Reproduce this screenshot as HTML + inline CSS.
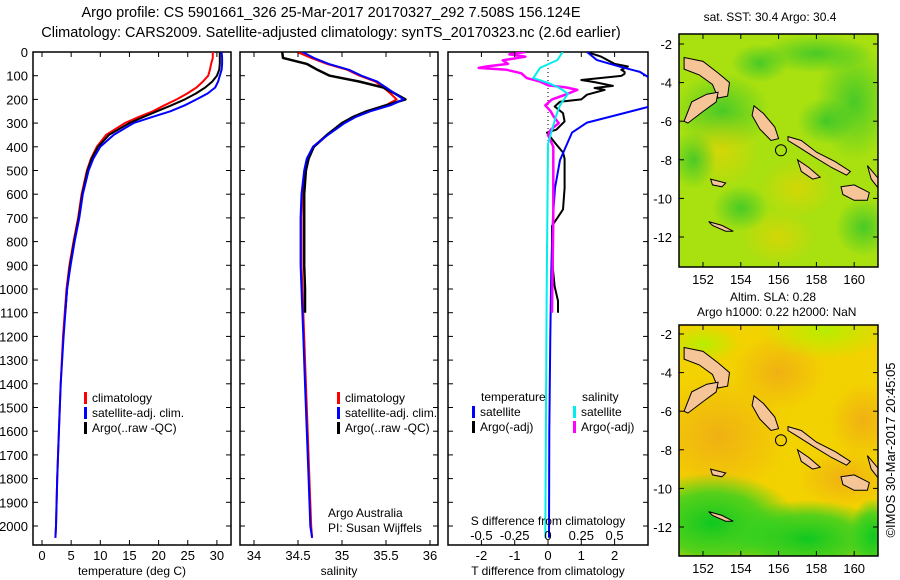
<!DOCTYPE html>
<html><head><meta charset="utf-8"><style>
html,body{margin:0;padding:0;background:#fff;overflow:hidden;width:900px;height:580px}
svg{display:block}
svg text{font-family:"Liberation Sans",sans-serif;fill:#000}
</style></head><body>
<svg id="c" width="900" height="580" viewBox="0 0 900 580" xmlns="http://www.w3.org/2000/svg">
<defs>
<clipPath id="cp1"><rect x="33" y="52" width="198" height="493"/></clipPath>
<clipPath id="cp2"><rect x="240" y="52" width="198" height="493"/></clipPath>
<clipPath id="cp3"><rect x="448" y="52" width="200" height="493"/></clipPath>
<clipPath id="cm1"><rect x="679" y="34" width="199" height="233"/></clipPath>
<clipPath id="cm2"><rect x="679" y="325" width="199" height="231"/></clipPath>
<radialGradient id="g1" cx="0.5" cy="0.5" r="0.5"><stop offset="0" stop-color="#f0a818" stop-opacity="0.8"/><stop offset="1" stop-color="#f0a818" stop-opacity="0"/></radialGradient>
<radialGradient id="g2" cx="0.5" cy="0.5" r="0.5"><stop offset="0" stop-color="#10c820" stop-opacity="1"/><stop offset="0.6" stop-color="#30d020" stop-opacity="0.8"/><stop offset="1" stop-color="#30d020" stop-opacity="0"/></radialGradient>
<radialGradient id="g3" cx="0.5" cy="0.5" r="0.5"><stop offset="0" stop-color="#20c030" stop-opacity="0.7"/><stop offset="1" stop-color="#20c030" stop-opacity="0"/></radialGradient>
<radialGradient id="g4" cx="0.5" cy="0.5" r="0.5"><stop offset="0" stop-color="#f0d000" stop-opacity="0.6"/><stop offset="1" stop-color="#f0d000" stop-opacity="0"/></radialGradient>
<radialGradient id="g5" cx="0.5" cy="0.5" r="0.5"><stop offset="0" stop-color="#b0f000" stop-opacity="0.9"/><stop offset="1" stop-color="#b0f000" stop-opacity="0"/></radialGradient>
</defs>
<text x="331" y="17" font-size="14.5" text-anchor="middle">Argo profile: CS 5901661_326 25-Mar-2017 20170327_292 7.508S 156.124E</text>
<text x="331" y="37" font-size="14.5" text-anchor="middle">Climatology: CARS2009. Satellite-adjusted climatology: synTS_20170323.nc (2.6d earlier)</text>
<g id="main"></g>
</svg>
<script>
// ---- data ----
const depths = [0,25,50,75,100,125,150,175,200,225,250,275,300,350,400,450,500,600,700,800,900,1000,1200,1400,1600,1800,2000,2050];
const tempClim = [29.3,29.3,29.0,28.8,28.5,27.6,26.5,24.9,23.1,21.0,19.0,16.5,14.2,11.0,9.4,8.4,7.7,6.8,6.2,5.4,4.7,4.2,3.6,3.2,2.9,2.6,2.4,2.3];
const tempSat = [30.8,30.9,30.9,30.8,30.5,30.2,29.7,28.4,26.5,24.5,22.0,18.8,15.7,12.3,10.0,8.8,8.0,7.0,6.4,5.6,4.9,4.3,3.7,3.2,2.9,2.6,2.4,2.3];
const argoDepths = [0,25,50,75,100,125,150,175,200,225,250,275,300,350,400,450,500,600,700,800,900,1000,1100];
const tempArgo = [30.5,30.5,30.5,30.4,30.0,29.2,28.0,26.4,24.5,22.2,19.7,17.3,15.0,11.5,9.6,8.5,7.8,6.9,6.3,5.5,4.8,4.3,4.0];
const salClim = [34.49,34.65,34.83,35.06,35.2,35.38,35.47,35.55,35.62,35.5,35.28,35.13,35.01,34.83,34.67,34.61,34.58,34.55,34.54,34.54,34.54,34.55,34.57,34.59,34.61,34.63,34.65,34.66];
const salSat = [34.55,34.68,34.85,35.08,35.22,35.40,35.50,35.60,35.70,35.55,35.32,35.15,35.03,34.84,34.67,34.60,34.57,34.54,34.53,34.53,34.53,34.54,34.56,34.58,34.60,34.62,34.64,34.66];
const salArgo = [34.32,34.33,34.6,34.72,34.86,35.2,35.47,35.6,35.72,35.5,35.28,35.12,35.0,34.83,34.68,34.62,34.59,34.57,34.57,34.57,34.57,34.58,34.58];
const dTsatDepth = [0,34,62,84,105,160,232,270,298,340,388,456,574,692,810,920,1200,1600,2050];
const dTsat = [1.17,1.47,2.16,2.76,3.0,4.0,3.0,1.95,1.17,0.72,0.57,0.36,0.21,0.15,0.12,0.1,0.07,0.04,0.03];
const dTargoDepth = [0,20,50,61,75,84,92,101,118,127,143,152,160,180,200,210,230,258,293,328,340,382,424,450,574,664,734,810,920,990,1050,1100];
const dTargo = [1.17,1.6,2.0,2.4,2.2,2.3,2.3,2.2,1.0,1.4,1.95,1.4,1.7,1.17,1.0,0.36,0.2,0.45,0.5,0.25,-0.03,0.2,0.45,0.5,0.5,0.45,0.12,0.12,0.15,0.2,0.3,0.3];
const dSargoDepth = [0,10,20,35,50,60,67,75,90,110,125,140,150,160,180,200,225,250,270,300,328,350,400,700,1100];
const dSargo = [-0.17,-0.29,-0.17,-0.34,-0.3,-0.45,-0.52,-0.31,-0.2,-0.16,-0.06,0,0.14,0.22,0.13,0.03,-0.02,0.02,0.04,0.08,0.02,0.0,0.04,0.04,0.03];
const dSsatDepth = [0,34,67,110,130,150,176,200,225,270,328,388,1000,2050];
const dSsat = [0.11,0.07,-0.06,-0.11,0.0,0.08,0.15,0.12,0.09,0.06,0.03,0.0,-0.01,-0.02];
const depthTicks = [0,100,200,300,400,500,600,700,800,900,1000,1100,1200,1300,1400,1500,1600,1700,1800,1900,2000];
const tempTicks = [0,5,10,15,20,25,30];
const salTicks = [34,34.5,35,35.5,36];
const salTickLabels = ["34","34.5","35","35.5","36"];
const dTTicks = [-2,-1,0,1,2];
const dSTicks = [-0.5,-0.25,0,0.25,0.5];
const dSTickLabels = ["-0.5","-0.25","0","0.25","0.5"];
const lonTicks = [152,154,156,158,160];
const latTicks = [-2,-4,-6,-8,-10,-12];

// ---- scales ----
const yD = d => 52 + d*0.237;
const xT = t => 42 + t*5.83;
const xS = s => 298 + (s-34.5)*88;
const xdT = v => 548 + v*33.3;
const xdS = v => 548 + v*133.2;
const NS = 'http://www.w3.org/2000/svg';
const main = document.getElementById('main');
function mk(tag, attrs, parent){const e=document.createElementNS(NS,tag);for(const k in attrs)e.setAttribute(k,attrs[k]);(parent||main).appendChild(e);return e;}
function txt(x,y,s,size,anchor,parent){const e=mk('text',{x:x,y:y,'font-size':size,'text-anchor':anchor||'middle'},parent);e.textContent=s;return e;}

function panel(name,x0,w,clip){
  const g=mk('g',{});
  
  
  const box=mk('rect',{x:x0,y:52,width:w,height:493,fill:'none',stroke:'#000','stroke-width':1.5},g);
  
  
  depthTicks.forEach(d=>{mk('line',{x1:x0,x2:x0+5,y1:yD(d),y2:yD(d),stroke:'#000'},g);mk('line',{x1:x0+w-5,x2:x0+w,y1:yD(d),y2:yD(d),stroke:'#000'},g);});
  const lines=mk('g',{'clip-path':'url(#'+clip+')'},g);
  return {g,lines};
}
function xticks(g,vals,labels,sc,ly){
  vals.forEach((v,i)=>{const x=sc(v);mk('line',{x1:x,x2:x,y1:52,y2:57,stroke:'#000'},g);mk('line',{x1:x,x2:x,y1:540,y2:545,stroke:'#000'},g);
    const t=txt(x,ly,labels?labels[i]:String(v),13,'middle',g);
    
    });
}
function series(parent,ds,vs,sx,color,name,width,dash){
  const pts=ds.map((d,i)=>sx(vs[i]).toFixed(1)+','+yD(d).toFixed(1)).join(' ');
  const p=mk('polyline',{points:pts,fill:'none',stroke:color,'stroke-width':width||2,'stroke-linejoin':'round'},parent);
  if(dash)p.setAttribute('stroke-dasharray',dash);
  
  
}
function legend(parent,x,y,items){
  items.forEach((it,i)=>{mk('rect',{x:x,y:y+i*15-10,width:3,height:12,fill:it[1]},parent);
    const t=txt(x+8,y+i*15,it[0],12,'start',parent);
    
    });
}

// panel 1
const p1=panel('temperature-panel',33,198,'cp1');
depthTicks.forEach(d=>{const t=txt(28,yD(d)+5,String(d),13,'end',p1.g);
  
  });
xticks(p1.g,tempTicks,null,xT,560);
let lab=txt(132,575,'temperature (deg C)',12,'middle',p1.g);


series(p1.lines,depths,tempClim,xT,'#f00','temp-climatology-line',2);
series(p1.lines,argoDepths,tempArgo,xT,'#000','temp-argo-line',2);
series(p1.lines,depths,tempSat,xT,'#00f','temp-satellite-line',2);
legend(p1.g,84,402,[['climatology','#f00'],['satellite-adj. clim.','#00f'],['Argo(..raw -QC)','#000']]);

// panel 2
const p2=panel('salinity-panel',240,198,'cp2');
xticks(p2.g,salTicks,salTickLabels,xS,560);
lab=txt(339,575,'salinity',12,'middle',p2.g);


series(p2.lines,depths,salClim,xS,'#f00','sal-climatology-line',2);
series(p2.lines,argoDepths,salArgo,xS,'#000','sal-argo-line',2.5);
series(p2.lines,depths,salSat,xS,'#00f','sal-satellite-line',2);
legend(p2.g,337,402,[['climatology','#f00'],['satellite-adj. clim.','#00f'],['Argo(..raw -QC)','#000']]);
txt(328,517,'Argo Australia',12,'start',p2.g);
txt(328,532,'PI: Susan Wijffels',12,'start',p2.g);

// panel 3
const p3=panel('difference-panel',448,200,'cp3');
xticks(p3.g,dTTicks,null,xdT,560);
dSTicks.forEach((v,i)=>{const t=txt(xdS(v),540,dSTickLabels[i],13,'middle',p3.g);
  
  });
txt(548,525,'S difference from climatology',12,'middle',p3.g);
lab=txt(548,575,'T difference from climatology',12,'middle',p3.g);


mk('line',{x1:548,x2:548,y1:52,y2:200,stroke:'#000','stroke-dasharray':'1,3'},p3.lines);
series(p3.lines,dTargoDepth,dTargo,xdT,'#000','tdiff-argo-line',2);
series(p3.lines,dTsatDepth,dTsat,xdT,'#00f','tdiff-satellite-line',2);
series(p3.lines,dSargoDepth,dSargo,xdS,'#f0f','sdiff-argo-line',2.5);
series(p3.lines,dSsatDepth,dSsat,xdS,'#0ee','sdiff-satellite-line',2);
txt(481,401,'temperature',12,'start',p3.g);
txt(582,401,'salinity',12,'start',p3.g);
legend(p3.g,472,416,[['satellite','#00f'],['Argo(-adj)','#000']]);
legend(p3.g,573,416,[['satellite','#0ee'],['Argo(-adj)','#f0f']]);

// maps
const lonX = lon => 703 + (lon-152)*18.9;
const islands = [
 [[151,-2.7],[152,-2.9],[152.8,-3.5],[153.4,-4.0],[153.3,-4.7],[152.8,-4.8],[152.5,-4.1],[151.8,-3.6],[151,-3.3]],
 [[151,-6.0],[151.4,-5.0],[152.2,-4.6],[152.8,-4.5],[152.7,-5.0],[152,-5.5],[151.2,-6.1]],
 [[154.7,-5.2],[155.2,-5.6],[155.8,-6.3],[156.0,-6.9],[155.6,-7.0],[155.0,-6.4],[154.6,-5.7]],
 [[156.5,-6.8],[157.2,-7.0],[158,-7.6],[159,-8.1],[159.8,-8.6],[159.6,-8.8],[158.8,-8.4],[157.8,-7.8],[157,-7.3],[156.5,-7.0]],
 [[159.3,-9.4],[160,-9.3],[160.8,-9.7],[160.7,-10.1],[160,-10.1],[159.4,-9.8]],
 [[160.7,-8.3],[161.3,-9.0],[161.3,-9.5],[160.9,-9.0]],
 [[157,-8.0],[157.6,-8.4],[158.2,-8.9],[157.8,-9.0],[157.2,-8.6]],
 [[152.3,-11.2],[153,-11.4],[153.6,-11.7],[153.2,-11.7],[152.5,-11.4]],
 [[152.4,-9.0],[153.2,-9.2],[153.0,-9.4],[152.5,-9.3]]
];
function map(name,top,y0,clip,bg,blobs){
  const g=mk('g',{});
  
  
  const latY = lat => y0 + (-2-lat)*19.3;
  const inner=mk('g',{'clip-path':'url(#'+clip+')'},g);
  mk('rect',{x:679,y:top,width:199,height:(clip==='cm1'?233:231),fill:bg},inner);
  blobs.forEach(b=>mk('ellipse',{cx:lonX(b[0]),cy:latY(b[1]),rx:b[2]*18.9,ry:b[3]*19.3,fill:'url(#'+b[4]+')'},inner));
  islands.forEach(p=>{const poly=mk('polygon',{points:p.map(q=>lonX(q[0]).toFixed(1)+','+latY(q[1]).toFixed(1)).join(' '),fill:'#f6c597',stroke:'#000','stroke-width':1},inner);
    
    });
  const c=mk('circle',{cx:lonX(156.124),cy:latY(-7.508),r:5.5,fill:'none',stroke:'#000','stroke-width':1},inner);
  
  
  mk('rect',{x:679,y:top,width:199,height:(clip==='cm1'?233:231),fill:'none',stroke:'#000','stroke-width':1.5},g);
  latTicks.forEach(l=>{const y=latY(l);mk('line',{x1:679,x2:684,y1:y,y2:y,stroke:'#000'},g);mk('line',{x1:873,x2:878,y1:y,y2:y,stroke:'#000'},g);
    txt(672,y+5,String(l),13,'end',g);});
  const bot=top+(clip==='cm1'?233:231);
  lonTicks.forEach(l=>{const x=lonX(l);mk('line',{x1:x,x2:x,y1:top,y2:top+5,stroke:'#000'},g);mk('line',{x1:x,x2:x,y1:bot-5,y2:bot,stroke:'#000'},g);
    txt(x,bot+17,String(l),13,'middle',g);});
  return g;
}
map('sst-map',34,44,'cm1','#a8e010',[[153,-5.5,2.5,2,'g3'],[160,-5,2,3,'g3'],[156,-12,2,1.5,'g4'],[157,-9.5,2,1.5,'g4'],[153,-7.5,2,2,'g4'],[160.5,-11.5,1.5,1.5,'g3'],[158,-2.5,3,1,'g3'],[155,-3,1.5,1,'g3'],[151.5,-8,1.2,1.5,'g3'],[158.5,-6,1.5,1.2,'g3'],[154,-10.5,1.5,1.2,'g3']]);
map('sla-map',325,334,'cm2','#f2d200',[[152.8,-7.3,3.8,3.2,'g1'],[156,-4,2.5,2,'g1'],[159.5,-9.5,2.5,1.5,'g1'],[160.5,-6.5,1.8,2,'g1'],[152.5,-11.8,4.5,2.6,'g2'],[157.5,-12.6,4.5,2,'g2'],[161,-12.5,1.3,2,'g2'],[158.5,-1.8,3.5,1.5,'g5'],[152,-2.5,2,1,'g5']]);
txt(770,21,'sat. SST: 30.4 Argo: 30.4',12,'middle');
txt(730,301,'Altim. SLA: 0.28',12,'start');
txt(697,316,'Argo h1000: 0.22 h2000: NaN',12,'start');
const v=txt(0,0,'©IMOS 30-Mar-2017 20:45:05',13,'middle');
v.setAttribute('transform','translate(895,450) rotate(-90)');


</script>
</body></html>
